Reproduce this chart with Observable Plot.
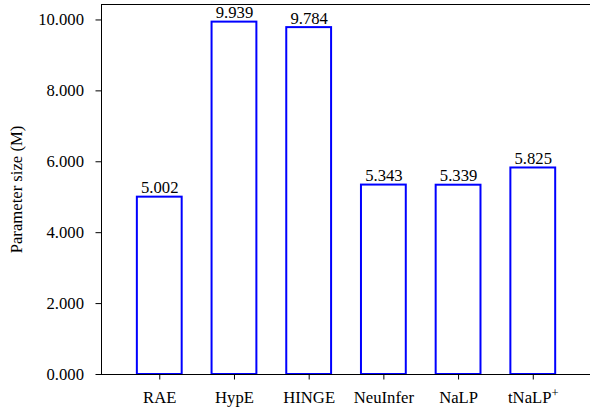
<!DOCTYPE html>
<html><head><meta charset="utf-8">
<script src="https://cdn.jsdelivr.net/npm/d3@7"></script>
<script src="https://cdn.jsdelivr.net/npm/@observablehq/plot@0.6"></script>
<style>body{margin:0;background:#fff}</style>
</head><body><div id="chart"></div>
<script>
const models = ["RAE", "HypE", "HINGE", "NeuInfer", "NaLP", "tNaLP+"];
const params = [5.002, 9.939, 9.784, 5.343, 5.339, 5.825];
const yTicks = [0, 2, 4, 6, 8, 10];
const yLabel = "Parameter size (M)";

const data = models.map((m, i) => ({i, model: m, value: params[i]}));
const yMax = 10.436, xMin = -0.78, xMax = 5.766;
const fmt = d3.format(".3f");
const FS = 16.67;

const chart = Plot.plot({
  width: 590, height: 413,
  marginTop: 4, marginBottom: 39, marginLeft: 101, marginRight: 0,
  style: {fontFamily: "'Liberation Serif', 'Times New Roman', serif", fontSize: FS + "px", color: "#000", background: "#fff"},
  x: {type: "linear", domain: [xMin, xMax]},
  y: {domain: [0, yMax]},
  marks: [
    Plot.rectY(data, {x1: d => d.i - 0.3, x2: d => d.i + 0.3, y: "value", fill: "white", stroke: "#0000ff", strokeWidth: 2}),
    Plot.text(data, {x: "i", y: "value", text: d => fmt(d.value), lineAnchor: "bottom", dy: -4, fontSize: FS, fill: "black"}),
    Plot.ruleY([0, yMax], {stroke: "black", strokeWidth: 1}),
    Plot.ruleX([xMin], {stroke: "black", strokeWidth: 1}),
    Plot.axisY({ticks: yTicks, tickFormat: fmt, tickSize: 5.5, tickPadding: 12, fontSize: FS, label: yLabel, labelAnchor: "center", labelArrow: "none", labelOffset: 91, stroke: "black"}),
    Plot.axisX({ticks: [0, 1, 2, 3, 4, 5], tickFormat: i => models[i], tickSize: 5.5, tickPadding: 11, fontSize: FS, label: null, stroke: "black"})
  ]
});
document.getElementById("chart").appendChild(chart);
chart.querySelectorAll("text").forEach(t => {
  if (t.textContent === "tNaLP+") {
    t.textContent = "tNaLP";
    const ts = document.createElementNS("http://www.w3.org/2000/svg", "tspan");
    ts.setAttribute("font-size", "12.5px");
    ts.setAttribute("dy", "-6");
    ts.textContent = "+";
    t.appendChild(ts);
  }
});
</script>
</body></html>
